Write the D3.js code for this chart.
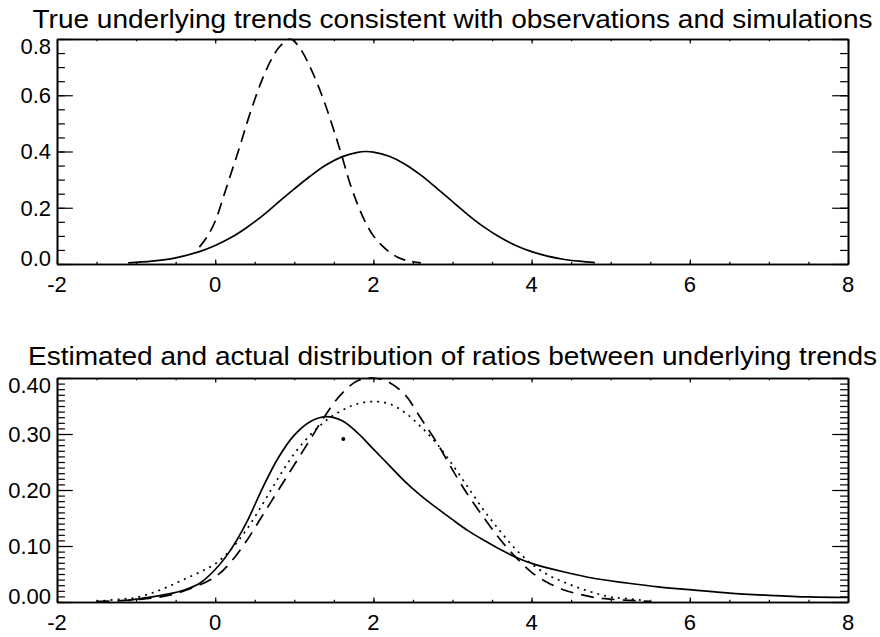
<!DOCTYPE html>
<html>
<head>
<meta charset="utf-8">
<script src="https://cdn.jsdelivr.net/npm/d3@7"></script>
<style>
  body { margin: 0; background: #fff; }
  text { font-family: "Liberation Sans", Arial, Helvetica, sans-serif; fill: #000; }
</style>
</head>
<body>
<div id="chart"></div>
<script>
// x-axel gemensam för båda panelerna
var xTicks = [-2, 0, 2, 4, 6, 8];
var xTickLabels = ["-2", "0", "2", "4", "6", "8"];

// panel 1: verkliga trender
var topTitle = "True underlying trends consistent with observations and simulations";
var topYTicks = [0, 0.2, 0.4, 0.6, 0.8];
var topYTickLabels = ["0.0", "0.2", "0.4", "0.6", "0.8"];
var topSolidX = [-1.1, -0.8, -0.5, -0.2, 0.0, 0.2, 0.4, 0.6, 0.8, 1.0, 1.2, 1.4, 1.6, 1.8, 1.9, 2.0, 2.2, 2.4, 2.6, 2.8, 3.0, 3.2, 3.4, 3.6, 3.8, 4.0, 4.2, 4.4, 4.6, 4.8];
var topSolidY = [0.004, 0.010, 0.022, 0.044, 0.066, 0.094, 0.130, 0.172, 0.220, 0.267, 0.312, 0.352, 0.381, 0.397, 0.400, 0.398, 0.383, 0.355, 0.316, 0.270, 0.222, 0.174, 0.131, 0.095, 0.066, 0.044, 0.028, 0.017, 0.010, 0.005];
var topDashX = [-0.2, -0.1, 0.0, 0.1, 0.2, 0.3, 0.4, 0.5, 0.6, 0.7, 0.8, 0.9, 0.95, 1.0, 1.1, 1.2, 1.3, 1.4, 1.5, 1.6, 1.7, 1.8, 1.9, 2.0, 2.1, 2.2, 2.3, 2.4, 2.5, 2.6];
var topDashY = [0.060, 0.098, 0.152, 0.235, 0.322, 0.408, 0.500, 0.585, 0.660, 0.722, 0.768, 0.795, 0.800, 0.792, 0.755, 0.700, 0.635, 0.560, 0.475, 0.385, 0.290, 0.212, 0.148, 0.100, 0.068, 0.043, 0.025, 0.014, 0.008, 0.004];

// panel 2: fördelning av kvoter
var botTitle = "Estimated and actual distribution of ratios between underlying trends";
var botYTicks = [0, 0.1, 0.2, 0.3, 0.4];
var botYTickLabels = ["0.00", "0.10", "0.20", "0.30", "0.40"];
var botSolidX = [-1.1, -1.0, -0.8, -0.6, -0.4, -0.2, 0.0, 0.2, 0.4, 0.6, 0.8, 1.0, 1.2, 1.4, 1.6, 1.8, 2.0, 2.2, 2.4, 2.6, 2.8, 3.0, 3.2, 3.4, 3.6, 3.8, 4.0, 4.4, 4.8, 5.2, 5.6, 6.0, 6.5, 7.0, 7.5, 8.0];
var botSolidY = [0.003, 0.005, 0.009, 0.014, 0.021, 0.033, 0.058, 0.094, 0.143, 0.204, 0.258, 0.298, 0.322, 0.331, 0.324, 0.302, 0.273, 0.244, 0.215, 0.190, 0.168, 0.147, 0.127, 0.110, 0.094, 0.080, 0.069, 0.054, 0.042, 0.034, 0.027, 0.022, 0.016, 0.012, 0.009, 0.008];
var botDashX = [-1.5, -1.0, -0.5, 0.0, 0.2, 0.4, 0.6, 0.8, 1.0, 1.2, 1.4, 1.6, 1.8, 2.0, 2.2, 2.4, 2.6, 2.8, 3.0, 3.2, 3.4, 3.6, 3.8, 4.0, 4.2, 4.4, 4.6, 4.8, 5.0, 5.5];
var botDashY = [0.001, 0.004, 0.015, 0.045, 0.072, 0.110, 0.155, 0.200, 0.245, 0.290, 0.335, 0.372, 0.395, 0.400, 0.392, 0.370, 0.328, 0.285, 0.236, 0.190, 0.150, 0.112, 0.080, 0.053, 0.035, 0.022, 0.014, 0.008, 0.005, 0.001];
var botDotX = [-1.5, -1.2, -1.0, -0.8, -0.6, -0.4, -0.2, 0.0, 0.2, 0.4, 0.6, 0.8, 1.0, 1.2, 1.4, 1.6, 1.8, 2.0, 2.2, 2.4, 2.6, 2.8, 3.0, 3.2, 3.4, 3.6, 3.8, 4.0, 4.2, 4.4, 4.6, 4.8, 5.0, 5.2, 5.4];
var botDotY = [0.001, 0.005, 0.008, 0.016, 0.027, 0.040, 0.053, 0.068, 0.094, 0.130, 0.175, 0.222, 0.265, 0.298, 0.324, 0.342, 0.354, 0.358, 0.354, 0.338, 0.313, 0.283, 0.245, 0.204, 0.163, 0.127, 0.094, 0.068, 0.049, 0.036, 0.025, 0.016, 0.009, 0.006, 0.003];
var botStrayX = [1.62];
var botStrayY = [0.291];

var width = 880, height = 637;
var left = 57, right = 848;

var svg = d3.select('#chart')
    .append('svg')
    .attr('width', width)
    .attr('height', height);

var x = d3.scaleLinear().domain([-2, 8]).range([left, right]);

function zip(xs, ys) {
    return xs.map(function (d, i) { return [d, ys[i]]; });
}

// ritar en panel: ram, ticks, etiketter, kurvor
function drawPanel(p) {
    var y = d3.scaleLinear().domain(p.yDomain).range([p.bottom, p.top]);
    var g = svg.append('g');
    var ph = p.bottom - p.top, pw = right - left;
    var xMaj = ph * 0.02, yMaj = pw * 0.02;

    // minor + major ticks, pekar inåt
    function ticks(axisFn, scale, vals, len, tr) {
        g.append('g')
            .attr('transform', tr)
            .call(axisFn(scale).tickValues(vals).tickSize(-len).tickSizeOuter(0).tickFormat(''))
            .call(function (s) {
                s.selectAll('line').attr('stroke', '#000').attr('stroke-width', 1.2);
                s.select('.domain').attr('stroke', '#000').attr('stroke-width', 1.6);
            });
    }
    var yMinor = y.ticks(p.yMinorCount);
    var xMinor = x.ticks(20);
    ticks(d3.axisLeft, y, yMinor, yMaj / 2, 'translate(' + left + ',0)');
    ticks(d3.axisLeft, y, p.yTicks, yMaj, 'translate(' + left + ',0)');
    ticks(d3.axisRight, y, yMinor, yMaj / 2, 'translate(' + right + ',0)');
    ticks(d3.axisRight, y, p.yTicks, yMaj, 'translate(' + right + ',0)');
    ticks(d3.axisBottom, x, xMinor, xMaj / 2, 'translate(0,' + p.bottom + ')');
    ticks(d3.axisBottom, x, xTicks, xMaj, 'translate(0,' + p.bottom + ')');
    ticks(d3.axisTop, x, xMinor, xMaj / 2, 'translate(0,' + p.top + ')');
    ticks(d3.axisTop, x, xTicks, xMaj, 'translate(0,' + p.top + ')');

    // etiketter
    g.selectAll('.xl')
        .data(xTicks).enter()
        .append('text')
        .attr('x', function (d) { return x(d); })
        .attr('y', p.bottom + 28)
        .attr('text-anchor', 'middle')
        .style('font-size', '22px')
        .text(function (d, i) { return xTickLabels[i]; });
    g.selectAll('.yl')
        .data(p.yTicks).enter()
        .append('text')
        .attr('x', left - 6)
        .attr('y', function (d, i) {
            var n = 0;
            if (i === 0) n = -6; // nedersta etiketten lyfts
            if (i === p.yTicks.length - 1) n = 7; // översta sänks
            return y(d) + n;
        })
        .attr('dy', '0.36em')
        .attr('text-anchor', 'end')
        .style('font-size', '22px')
        .text(function (d, i) { return p.yLabels[i]; });
    g.append('text')
        .attr('x', (left + right) / 2)
        .attr('y', p.titleY)
        .attr('text-anchor', 'middle')
        .attr('textLength', p.titleW)
        .attr('lengthAdjust', 'spacingAndGlyphs')
        .style('font-size', '26px')
        .text(p.title);

    var line = d3.line()
        .x(function (d) { return x(d[0]); })
        .y(function (d) { return y(d[1]); })
        .curve(d3.curveCatmullRom);
    p.series.forEach(function (s) {
        g.append('path')
            .datum(zip(s.xs, s.ys))
            .attr('d', line)
            .attr('fill', 'none')
            .attr('stroke', '#000')
            .attr('stroke-width', 1.7)
            .attr('stroke-dasharray', s.dash || null);
    });
    if (p.dots) {
        g.selectAll('.dot')
            .data(zip(p.dots[0], p.dots[1])).enter()
            .append('circle')
            .attr('cx', function (d) { return x(d[0]); })
            .attr('cy', function (d) { return y(d[1]); })
            .attr('r', 2)
            .attr('fill', '#000');
    }
}

drawPanel({
    top: 39, bottom: 264, yDomain: [0, 0.8], yMinorCount: 16,
    yTicks: topYTicks, yLabels: topYTickLabels, title: topTitle, titleY: 28, titleW: 840,
    series: [
        { xs: topSolidX, ys: topSolidY },
        { xs: topDashX, ys: topDashY, dash: '12,7' }
    ]
});

drawPanel({
    top: 378, bottom: 602, yDomain: [0, 0.4], yMinorCount: 40,
    yTicks: botYTicks, yLabels: botYTickLabels, title: botTitle, titleY: 365, titleW: 849,
    series: [
        { xs: botSolidX, ys: botSolidY },
        { xs: botDashX, ys: botDashY, dash: '13,8' },
        { xs: botDotX, ys: botDotY, dash: '2,5' }
    ],
    dots: [botStrayX, botStrayY]
});
</script>
</body>
</html>
